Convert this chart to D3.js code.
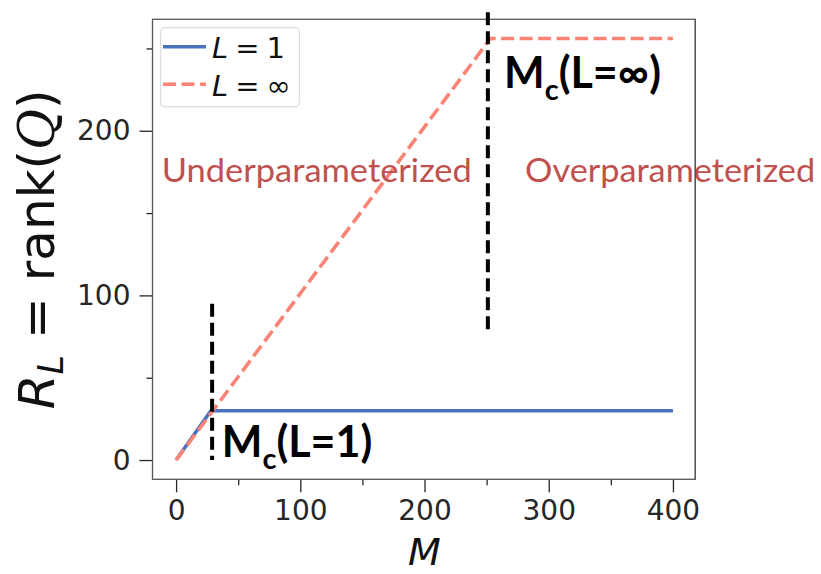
<!DOCTYPE html>
<html>
<head>
<meta charset="utf-8">
<script src="https://cdn.jsdelivr.net/npm/d3@7"></script>
<style>
  html, body { margin: 0; padding: 0; background: #fff; }
  #chart { width: 821px; height: 574px; }
</style>
</head>
<body>
<div id="chart"></div>
<script>
// data
const seriesNames = ["L = 1", "L = ∞"];
const blueM = [0, 28, 400];
const blueR = [0, 30, 30];
const redM = [0, 253, 400];
const redR = [0, 256, 256];

const xTicks = [0, 100, 200, 300, 400];
const xMinor = [50, 150, 250, 350];
const yTicks = [0, 100, 200];
const yMinor = [50, 150, 250];

// critical M markers (vertical dashed overlays)
const critM = [29, 251];
const critTop = [95, 272];
const critBottom = [0, 79];

document.addEventListener("DOMContentLoaded", function () {
  const width = 821, height = 574;
  const svg = d3.select("#chart").append("svg")
    .attr("width", width)
    .attr("height", height)
    .style("font-family", "'DejaVu Sans', sans-serif");

  const left = 152.5, right = 695.3, top = 19.3, bottom = 479.3;
  const x = d3.scaleLinear().domain([-19, 418]).range([left, right]);
  const y = d3.scaleLinear().domain([-11.7, 267.7]).range([bottom, top]);

  const ink = "#262626";
  const blue = "#4a72bd";
  const salmon = "#fa8375";
  const annot = "#c0504d";

  // axes (major + minor ticks)
  svg.append("g").attr("transform", `translate(0,${bottom})`)
    .call(d3.axisBottom(x).tickValues(xTicks).tickSize(13).tickPadding(8).tickSizeOuter(0));
  svg.append("g").attr("transform", `translate(0,${bottom})`)
    .call(d3.axisBottom(x).tickValues(xMinor).tickSize(6).tickFormat("").tickSizeOuter(0));
  svg.append("g").attr("transform", `translate(${left},0)`)
    .call(d3.axisLeft(y).tickValues(yTicks).tickSize(13).tickPadding(9).tickSizeOuter(0));
  svg.append("g").attr("transform", `translate(${left},0)`)
    .call(d3.axisLeft(y).tickValues(yMinor).tickSize(6).tickFormat("").tickSizeOuter(0));

  svg.selectAll(".domain").remove();
  svg.selectAll(".tick line").attr("stroke", ink).attr("stroke-width", 1.3);
  svg.selectAll(".tick text")
    .attr("fill", ink)
    .style("font-family", "'DejaVu Sans', sans-serif")
    .style("font-size", "28px");

  // lines
  const line = d3.line().x(d => x(d[0])).y(d => y(d[1]));
  svg.append("path")
    .datum(blueM.map((m, i) => [m, blueR[i]]))
    .attr("d", line)
    .attr("fill", "none")
    .attr("stroke", blue)
    .attr("stroke-width", 3.5);
  svg.append("path")
    .datum(redM.map((m, i) => [m, redR[i]]))
    .attr("d", line)
    .attr("fill", "none")
    .attr("stroke", salmon)
    .attr("stroke-width", 3.6)
    .attr("stroke-dasharray", "13,5.5");

  // frame
  svg.append("rect")
    .attr("x", left).attr("y", top)
    .attr("width", right - left).attr("height", bottom - top)
    .attr("fill", "none")
    .attr("stroke", "#555")
    .attr("stroke-width", 1.3);

  // legend
  const lg = svg.append("g");
  lg.append("rect")
    .attr("x", 160.7).attr("y", 27.7)
    .attr("width", 138.6).attr("height", 79)
    .attr("rx", 4)
    .attr("fill", "#fff").attr("fill-opacity", 0.8)
    .attr("stroke", "#dcdcdc").attr("stroke-width", 1.2);
  const rows = [
    { name: seriesNames[0], color: blue, dash: null, y: 46.7 },
    { name: seriesNames[1], color: salmon, dash: "13,5.5", y: 84.3 }
  ];
  rows.forEach(r => {
    lg.append("line")
      .attr("x1", 163).attr("x2", 206)
      .attr("y1", r.y).attr("y2", r.y)
      .attr("stroke", r.color).attr("stroke-width", 3.5)
      .attr("stroke-dasharray", r.dash);
    const parts = r.name.split(" = ");
    const t = lg.append("text")
      .attr("x", 212).attr("y", r.y + 11.5)
      .attr("fill", "#111")
      .style("font-size", "29px");
    t.append("tspan").style("font-style", "italic").text(parts[0]);
    t.append("tspan").attr("dx", 7).text("=");
    t.append("tspan").attr("dx", 7).text(parts[1]);
  });

  // critical dashed verticals
  critM.forEach((m, i) => {
    svg.append("line")
      .attr("x1", x(m)).attr("x2", x(m))
      .attr("y1", y(critTop[i])).attr("y2", y(critBottom[i]))
      .attr("stroke", "#000")
      .attr("stroke-width", 4)
      .attr("stroke-dasharray", "13,6");
  });

  // region labels
  const regionFont = "Lato, 'Open Sans', sans-serif";
  svg.append("text")
    .attr("x", x(-11.5)).attr("y", y(169))
    .attr("fill", annot)
    .attr("textLength", 310).attr("lengthAdjust", "spacingAndGlyphs")
    .style("font-family", regionFont).style("font-size", "33px")
    .text("Underparameterized");
  svg.append("text")
    .attr("x", x(281)).attr("y", y(169))
    .attr("fill", annot)
    .attr("textLength", 290).attr("lengthAdjust", "spacingAndGlyphs")
    .style("font-family", regionFont).style("font-size", "33px")
    .text("Overparameterized");

  // frame right edge shows through the right label in the reference
  svg.append("line")
    .attr("x1", right).attr("x2", right)
    .attr("y1", top).attr("y2", bottom)
    .attr("stroke", "#555").attr("stroke-width", 1.3);

  // M_c annotations
  function mc(mx, ry, sub) {
    const t = svg.append("text")
      .attr("x", x(mx)).attr("y", y(ry))
      .attr("fill", "#000")
      .style("font-family", regionFont)
      .style("font-weight", "bold")
      .style("font-size", "43px");
    t.append("tspan").text("M");
    t.append("tspan").attr("dy", 12).style("font-size", "29px").text("c");
    t.append("tspan").attr("dy", -12).text("(L=" + sub + ")");
  }
  mc(36.8, 2, "1");
  mc(264, 225.8, "∞");

  // axis labels
  svg.append("text")
    .attr("x", x(200)).attr("y", 565)
    .attr("text-anchor", "middle")
    .attr("fill", "#111")
    .style("font-size", "38px").style("font-style", "italic")
    .text("M");

  const yl = svg.append("text")
    .attr("transform", `translate(54,${(top + bottom) / 2}) rotate(-90)`)
    .attr("text-anchor", "middle")
    .attr("fill", "#111")
    .style("font-size", "50px");
  yl.append("tspan").style("font-style", "italic").text("R");
  yl.append("tspan").attr("dy", 9).style("font-style", "italic").style("font-size", "35px").text("L");
  yl.append("tspan").attr("dy", -9).text(" = rank(");
  yl.append("tspan").style("font-style", "italic").style("font-family", "'DejaVu Serif', serif").text("Q");
  yl.append("tspan").text(")");
});
</script>
</body>
</html>
